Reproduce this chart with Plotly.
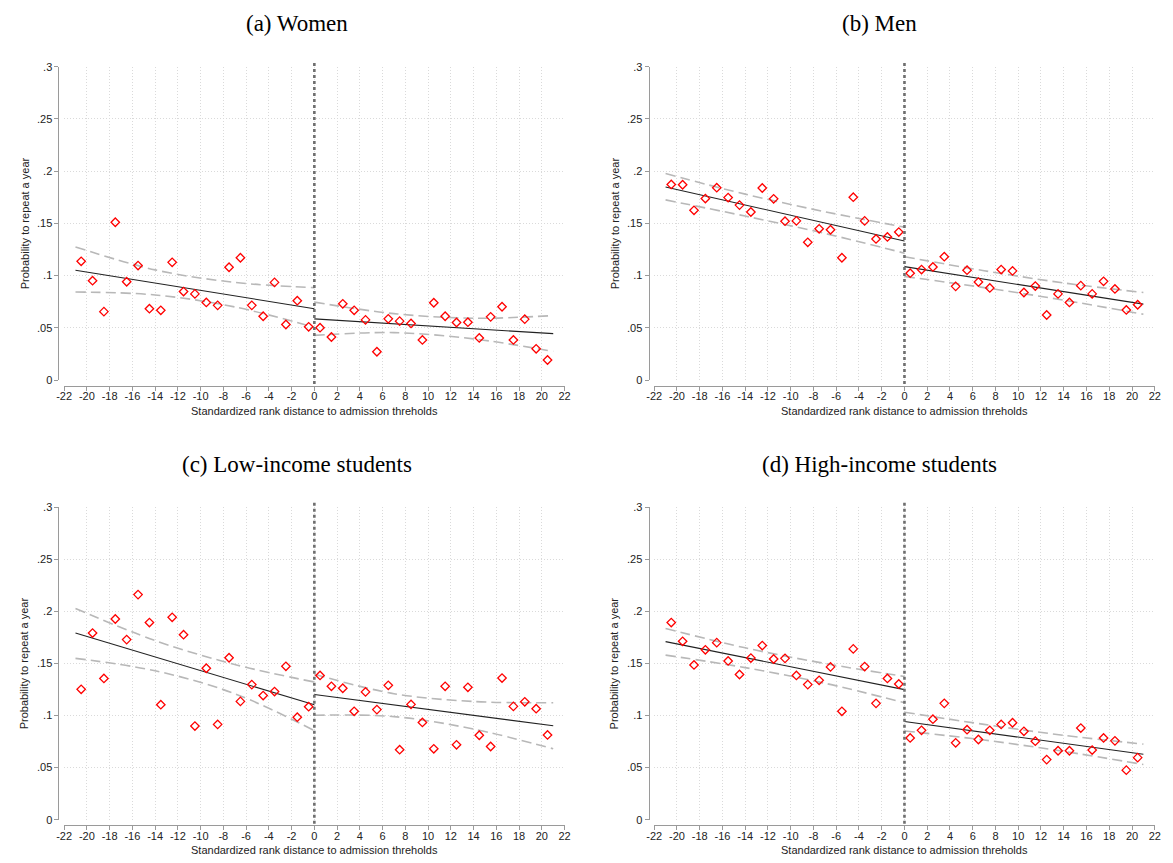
import plotly.graph_objects as go

# ---------------- data ----------------
CUTOFF = 0
BIN_X = [-20.5, -19.5, -18.5, -17.5, -16.5, -15.5, -14.5, -13.5, -12.5, -11.5, -10.5,
         -9.5, -8.5, -7.5, -6.5, -5.5, -4.5, -3.5, -2.5, -1.5, -0.5,
         0.5, 1.5, 2.5, 3.5, 4.5, 5.5, 6.5, 7.5, 8.5, 9.5, 10.5,
         11.5, 12.5, 13.5, 14.5, 15.5, 16.5, 17.5, 18.5, 19.5, 20.5]

WOMEN = [0.1137, 0.0951, 0.0655, 0.1511, 0.0941, 0.1096, 0.0683, 0.0668, 0.1127, 0.0847, 0.0825,
         0.0743, 0.0715, 0.1080, 0.1171, 0.0715, 0.0611, 0.0935, 0.0532, 0.0760, 0.0510,
         0.0501, 0.0412, 0.0730, 0.0668, 0.0576, 0.0271, 0.0586, 0.0564, 0.0542, 0.0384, 0.0740,
         0.0611, 0.0551, 0.0554, 0.0403, 0.0605, 0.0702, 0.0384, 0.0583, 0.0299, 0.0192]
MEN = [0.1873, 0.1870, 0.1625, 0.1738, 0.1842, 0.1747, 0.1675, 0.1609, 0.1839, 0.1735, 0.1521,
       0.1524, 0.1319, 0.1448, 0.1439, 0.1171, 0.1751, 0.1524, 0.1351, 0.1370, 0.1417,
       0.1023, 0.1058, 0.1083, 0.1181, 0.0897, 0.1052, 0.0938, 0.0882, 0.1058, 0.1045, 0.0838,
       0.0900, 0.0623, 0.0825, 0.0743, 0.0904, 0.0825, 0.0945, 0.0872, 0.0671, 0.0721]
LOW_INCOME = [0.1252, 0.1792, 0.1356, 0.1927, 0.1729, 0.2161, 0.1893, 0.1104, 0.1943, 0.1776, 0.0899,
              0.1454, 0.0915, 0.1555, 0.1136, 0.1297, 0.1192, 0.1230, 0.1473, 0.0984, 0.1085,
              0.1385, 0.1281, 0.1262, 0.1041, 0.1227, 0.1057, 0.1290, 0.0672, 0.1107, 0.0934, 0.0681,
              0.1281, 0.0719, 0.1271, 0.0811, 0.0703, 0.1360, 0.1088, 0.1132, 0.1066, 0.0814]
HIGH_INCOME = [0.1893, 0.1713, 0.1486, 0.1631, 0.1700, 0.1524, 0.1394, 0.1552, 0.1672, 0.1543, 0.1549,
               0.1385, 0.1297, 0.1338, 0.1467, 0.1041, 0.1640, 0.1470, 0.1117, 0.1356, 0.1303,
               0.0785, 0.0858, 0.0965, 0.1117, 0.0738, 0.0864, 0.0770, 0.0858, 0.0915, 0.0931, 0.0849,
               0.0754, 0.0577, 0.0662, 0.0662, 0.0880, 0.0669, 0.0785, 0.0757, 0.0476, 0.0596]

FIT_X_LEFT = [-21, 0]
FIT_X_RIGHT = [0, 21]
CI_X_LEFT = [-21, -14, -7, 0]
CI_X_RIGHT = [0, 7, 14, 21]

WOMEN_FIT_L = [0.1052, 0.0683]
WOMEN_FIT_R = [0.0586, 0.0444]
WOMEN_CI_HI_L = [0.1275, 0.1055, 0.0935, 0.0885]
WOMEN_CI_LO_L = [0.0843, 0.0815, 0.0700, 0.0505]
WOMEN_CI_HI_R = [0.0746, 0.0636, 0.0592, 0.0617]
WOMEN_CI_LO_R = [0.0428, 0.0454, 0.0394, 0.0274]

MEN_FIT_L = [0.1848, 0.1332]
MEN_FIT_R = [0.1086, 0.0727]
MEN_CI_HI_L = [0.1977, 0.1780, 0.1612, 0.1464]
MEN_CI_LO_L = [0.1725, 0.1570, 0.1404, 0.1215]
MEN_CI_HI_R = [0.1181, 0.1047, 0.0930, 0.0838]
MEN_CI_LO_R = [0.0992, 0.0885, 0.0765, 0.0630]

LOW_FIT_L = [0.1792, 0.1104]
LOW_FIT_R = [0.1202, 0.0902]
LOW_CI_HI_L = [0.2028, 0.1720, 0.1490, 0.1322]
LOW_CI_LO_L = [0.1549, 0.1430, 0.1210, 0.0855]
LOW_CI_HI_R = [0.1397, 0.1210, 0.1135, 0.1123]
LOW_CI_LO_R = [0.1003, 0.0990, 0.0870, 0.0681]

HIGH_FIT_L = [0.1710, 0.1249]
HIGH_FIT_R = [0.0943, 0.0628]
HIGH_CI_HI_L = [0.1836, 0.1650, 0.1500, 0.1375]
HIGH_CI_LO_L = [0.1580, 0.1460, 0.1310, 0.1123]
HIGH_CI_HI_R = [0.1032, 0.0915, 0.0810, 0.0726]
HIGH_CI_LO_R = [0.0852, 0.0765, 0.0656, 0.0530]

TITLES = ["(a) Women", "(b) Men", "(c) Low-income students", "(d) High-income students"]
X_TITLE = "Standardized rank distance to admission threholds"
Y_TITLE = "Probability to repeat a year"
X_TICKS = [-22, -20, -18, -16, -14, -12, -10, -8, -6, -4, -2, 0, 2, 4, 6, 8, 10, 12, 14, 16, 18, 20, 22]
X_TICK_TEXT = ["-22", "-20", "-18", "-16", "-14", "-12", "-10", "-8", "-6", "-4", "-2", "0",
               "2", "4", "6", "8", "10", "12", "14", "16", "18", "20", "22"]
Y_TICKS = [0, 0.05, 0.1, 0.15, 0.2, 0.25, 0.3]
Y_TICK_TEXT = ["0", ".05", ".1", ".15", ".2", ".25", ".3"]

PANELS = [
    (WOMEN, WOMEN_FIT_L, WOMEN_FIT_R, WOMEN_CI_HI_L, WOMEN_CI_LO_L, WOMEN_CI_HI_R, WOMEN_CI_LO_R),
    (MEN, MEN_FIT_L, MEN_FIT_R, MEN_CI_HI_L, MEN_CI_LO_L, MEN_CI_HI_R, MEN_CI_LO_R),
    (LOW_INCOME, LOW_FIT_L, LOW_FIT_R, LOW_CI_HI_L, LOW_CI_LO_L, LOW_CI_HI_R, LOW_CI_LO_R),
    (HIGH_INCOME, HIGH_FIT_L, HIGH_FIT_R, HIGH_CI_HI_L, HIGH_CI_LO_L, HIGH_CI_HI_R, HIGH_CI_LO_R),
]

# ---------------- layout geometry (window pixels) ----------------
WIN_W, WIN_H = 1173, 863
PAGE_MARGIN = 8                      # default body margin of the html page
W, H = WIN_W - 2 * PAGE_MARGIN, WIN_H - 2 * PAGE_MARGIN
# (plot left, plot right, plot top, plot bottom, title center x, title center y)
GEOM = [
    (56.7, 563.3, 61.5, 379.3, 292, 18),
    (654.0, 1160.7, 61.5, 379.3, 882, 18),
    (56.7, 563.3, 508.3, 825.3, 292, 465),
    (654.0, 1160.7, 508.3, 825.3, 882, 465),
]
AXIS_OFFSET = 5.7

SERIF = "Liberation Serif, Times New Roman, serif"
SANS = "Liberation Sans, Arial, sans-serif"
GRID = "#dadada"
AXIS = "#9a9a9a"
RED = "#ff0000"
CI_COL = "#b8b8b8"

fig = go.Figure()
layout = dict(
    width=W, height=H, margin=dict(l=0, r=0, t=0, b=0),
    paper_bgcolor="white", plot_bgcolor="white", showlegend=False,
    annotations=[], shapes=[],
)


def px(x):
    return (x - PAGE_MARGIN) / W


def py(y):
    return 1 - (y - PAGE_MARGIN) / H


for i, (panel, geom) in enumerate(zip(PANELS, GEOM)):
    vals, fit_l, fit_r, hi_l, lo_l, hi_r, lo_r = panel
    left, right, top, bottom, tx, ty = geom
    n = "" if i == 0 else str(i + 1)
    xa, ya = "x" + n, "y" + n

    # CI bands
    for cx, cy in [(CI_X_LEFT, hi_l), (CI_X_LEFT, lo_l), (CI_X_RIGHT, hi_r), (CI_X_RIGHT, lo_r)]:
        fig.add_trace(go.Scatter(x=cx, y=cy, mode="lines", xaxis=xa, yaxis=ya,
                                 line=dict(color=CI_COL, width=1.6, dash="10px,5px", shape="spline", smoothing=1.0),
                                 hoverinfo="skip"))
    # fitted lines
    for fx, fy in [(FIT_X_LEFT, fit_l), (FIT_X_RIGHT, fit_r)]:
        fig.add_trace(go.Scatter(x=fx, y=fy, mode="lines", xaxis=xa, yaxis=ya,
                                 line=dict(color="#222222", width=1.1), hoverinfo="skip"))
    # binned means
    fig.add_trace(go.Scatter(x=BIN_X, y=vals, mode="markers", xaxis=xa, yaxis=ya,
                             marker=dict(symbol="diamond-open", size=6.5, color=RED,
                                         line=dict(color=RED, width=1.3))))

    axis_common = dict(showgrid=True, gridcolor=GRID, griddash="1px,2px", gridwidth=1,
                       zeroline=False, showline=True, linecolor=AXIS, linewidth=1,
                       ticks="outside", ticklen=4, tickcolor=AXIS, tickwidth=1,
                       tickfont=dict(family=SANS, size=11, color="#222222"))
    layout["xaxis" + n] = dict(axis_common, domain=[px(left), px(right)], range=[-22, 22],
                               tickmode="array", tickvals=X_TICKS, ticktext=X_TICK_TEXT,
                               ticklabelstandoff=-4,
                               anchor="free", position=py(bottom + AXIS_OFFSET))
    layout["yaxis" + n] = dict(axis_common, domain=[py(bottom), py(top)], range=[0, 0.3],
                               tickmode="array", tickvals=Y_TICKS, ticktext=Y_TICK_TEXT,
                               anchor="free", position=px(left - AXIS_OFFSET))

    # cutoff line
    layout["shapes"].append(dict(type="line", xref=xa, yref="paper", x0=CUTOFF, x1=CUTOFF,
                                 y0=py(bottom + 4), y1=py(top - 5),
                                 line=dict(color="#6e6e6e", width=2.6, dash="dot")))
    # titles
    layout["annotations"].append(dict(text=TITLES[i], xref="paper", yref="paper",
                                      x=px(tx), y=py(ty), showarrow=False,
                                      xanchor="center", yanchor="middle",
                                      font=dict(family=SERIF, size=23, color="black")))
    layout["annotations"].append(dict(text=Y_TITLE, xref="paper", yref="paper",
                                      x=px(left - AXIS_OFFSET - 34), y=py((top + bottom) / 2),
                                      textangle=-90, showarrow=False,
                                      xanchor="center", yanchor="middle",
                                      font=dict(family=SANS, size=11, color="#222222")))
    layout["annotations"].append(dict(text=X_TITLE, xref="paper", yref="paper",
                                      x=px((left + right) / 2), y=py(bottom + 31),
                                      showarrow=False, xanchor="center", yanchor="middle",
                                      font=dict(family=SANS, size=11, color="#222222")))

fig.update_layout(**layout)
fig.write_html("out.html", config={"displayModeBar": False})
